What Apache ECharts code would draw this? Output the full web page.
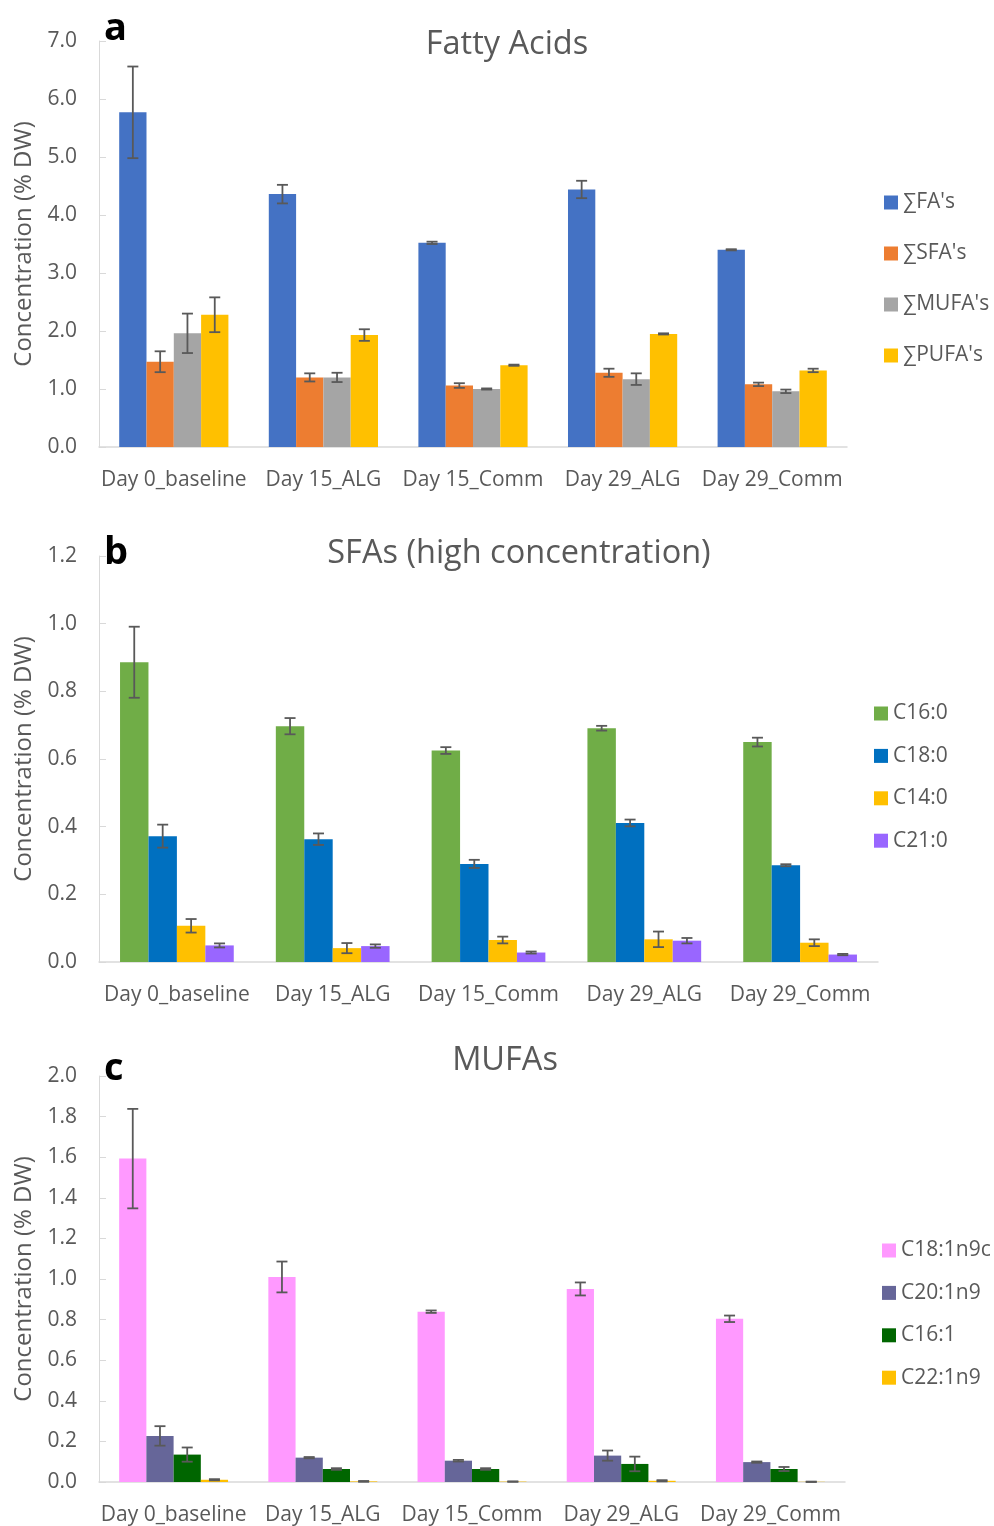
<!DOCTYPE html>
<html><head><meta charset="utf-8">
<script src="https://cdn.jsdelivr.net/npm/echarts@6/dist/echarts.min.js"></script>
<style>html,body{margin:0;padding:0;background:#fff}#chart{width:994px;height:1526px}</style>
</head><body><div id="chart"></div>
<script>
// ---------- DATA ----------
const categories = ['Day 0_baseline', 'Day 15_ALG', 'Day 15_Comm', 'Day 29_ALG', 'Day 29_Comm'];

// Panel a: Fatty Acids
const faNames = ["∑FA's", "∑SFA's", "∑MUFA's", "∑PUFA's"];
const faTotal    = [5.77, 4.36, 3.52, 4.44, 3.40];
const faTotalErr = [0.79, 0.16, 0.02, 0.15, 0.01];
const sfaTotal    = [1.47, 1.20, 1.06, 1.28, 1.08];
const sfaTotalErr = [0.18, 0.07, 0.04, 0.07, 0.03];
const mufaTotal    = [1.96, 1.20, 1.00, 1.17, 0.96];
const mufaTotalErr = [0.34, 0.08, 0.01, 0.10, 0.03];
const pufaTotal    = [2.28, 1.93, 1.41, 1.95, 1.32];
const pufaTotalErr = [0.30, 0.10, 0.01, 0.01, 0.03];

// Panel b: SFAs (high concentration)
const sfaNames = ['C16:0', 'C18:0', 'C14:0', 'C21:0'];
const c16_0    = [0.886, 0.697, 0.625, 0.691, 0.650];
const c16_0Err = [0.105, 0.024, 0.010, 0.007, 0.013];
const c18_0    = [0.372, 0.363, 0.290, 0.411, 0.286];
const c18_0Err = [0.034, 0.017, 0.012, 0.010, 0.003];
const c14_0    = [0.107, 0.041, 0.065, 0.067, 0.057];
const c14_0Err = [0.020, 0.015, 0.010, 0.023, 0.010];
const c21_0    = [0.049, 0.047, 0.028, 0.063, 0.022];
const c21_0Err = [0.006, 0.005, 0.003, 0.008, 0.002];

// Panel c: MUFAs
const mufaNames = ['C18:1n9c', 'C20:1n9', 'C16:1', 'C22:1n9'];
const c18_1n9c    = [1.593, 1.010, 0.839, 0.951, 0.804];
const c18_1n9cErr = [0.245, 0.076, 0.006, 0.032, 0.016];
const c20_1n9     = [0.227, 0.120, 0.105, 0.130, 0.098];
const c20_1n9Err  = [0.048, 0.003, 0.004, 0.025, 0.003];
const c16_1       = [0.135, 0.064, 0.064, 0.089, 0.064];
const c16_1Err    = [0.035, 0.004, 0.004, 0.036, 0.010];
const c22_1n9     = [0.011, 0.003, 0.002, 0.006, 0.001];
const c22_1n9Err  = [0.003, 0.002, 0.001, 0.003, 0.001];

// Axis ticks
const axisA = {min: 0, max: 7, interval: 1};
const axisB = {min: 0, max: 1.2, interval: 0.2};
const axisC = {min: 0, max: 2.0, interval: 0.2};

// ---------- STYLE ----------
const FONT = "'Open Sans', 'DejaVu Sans', sans-serif";
const TXT = '#595959';
const AXIS = '#d9d9d9';
const CAT_GAP = 0.27;

const panels = [
  {title: 'Fatty Acids', letter: 'a', names: faNames,
   values: [faTotal, sfaTotal, mufaTotal, pufaTotal],
   errs: [faTotalErr, sfaTotalErr, mufaTotalErr, pufaTotalErr],
   colors: ['#4472C4', '#ED7D31', '#A5A5A5', '#FFC000'], axis: axisA,
   grid: {left: 99, right: 147, top: 41, height: 406},
   legend: {left: 879, top: 187, itemGap: 30},
   titlePos: {x: 502, y: 23}, letterPos: {x: 99, y: 5}},
  {title: 'SFAs (high concentration)', letter: 'b', names: sfaNames,
   values: [c16_0, c18_0, c14_0, c21_0],
   errs: [c16_0Err, c18_0Err, c14_0Err, c21_0Err],
   colors: ['#70AD47', '#0070C0', '#FFC000', '#9966FF'], axis: axisB,
   grid: {left: 99, right: 116, top: 556, height: 406},
   legend: {left: 869, top: 698, itemGap: 21.4},
   titlePos: {x: 514, y: 532}, letterPos: {x: 99, y: 529}},
  {title: 'MUFAs', letter: 'c', names: mufaNames,
   values: [c18_1n9c, c20_1n9, c16_1, c22_1n9],
   errs: [c18_1n9cErr, c20_1n9Err, c16_1Err, c22_1n9Err],
   colors: ['#FF99FF', '#666699', '#006600', '#FFC000'], axis: axisC,
   grid: {left: 99, right: 149, top: 1076, height: 406},
   legend: {left: 877, top: 1235, itemGap: 21.4},
   titlePos: {x: 500, y: 1039}, letterPos: {x: 99, y: 1045}}
];

const option = {
  backgroundColor: '#fff',
  animation: false,
  textStyle: {fontFamily: FONT},
  title: [], grid: [], xAxis: [], yAxis: [], legend: [], series: []
};

panels.forEach((p, gi) => {
  option.title.push({text: p.title, left: p.titlePos.x, top: p.titlePos.y, textAlign: 'center',
    textStyle: {fontFamily: FONT, fontSize: 32.5, fontWeight: 'normal', color: TXT}});
  option.title.push({text: p.letter, left: p.letterPos.x, top: p.letterPos.y,
    textStyle: {fontFamily: FONT, fontSize: 38, fontWeight: 'bold', color: '#000'}});
  option.grid.push(Object.assign({containLabel: false, outerBoundsMode: 'none'}, p.grid));
  option.xAxis.push({type: 'category', gridIndex: gi, data: categories,
    axisLine: {lineStyle: {color: AXIS, width: 1.5}},
    axisTick: {show: false},
    axisLabel: {color: TXT, fontSize: 21, margin: 23, fontFamily: FONT, interval: 0}});
  option.yAxis.push({type: 'value', gridIndex: gi, min: p.axis.min, max: p.axis.max, interval: p.axis.interval,
    name: 'Concentration (% DW)', nameLocation: 'middle', nameGap: 62,
    nameTextStyle: {color: TXT, fontSize: 24, fontFamily: FONT},
    axisLine: {show: true, lineStyle: {color: AXIS, width: 1}},
    axisTick: {show: true, inside: true, length: 7, lineStyle: {color: AXIS}},
    splitLine: {show: false},
    axisLabel: {color: TXT, fontSize: 21, margin: 22, fontFamily: FONT,
      formatter: v => v.toFixed(1)}});
  option.legend.push({orient: 'vertical', left: p.legend.left, top: p.legend.top,
    itemGap: p.legend.itemGap, itemWidth: 14, itemHeight: 14, icon: 'rect', selectedMode: false,
    data: p.names,
    textStyle: {color: TXT, fontSize: 21, fontFamily: FONT, lineHeight: 20}});
  p.names.forEach((n, k) => {
    option.series.push({type: 'bar', name: n, xAxisIndex: gi, yAxisIndex: gi,
      data: p.values[k], barGap: '0%', barCategoryGap: (CAT_GAP * 100) + '%',
      itemStyle: {color: p.colors[k]}});
  });
  const errData = [];
  p.names.forEach((n, k) => {
    categories.forEach((c, ci) => errData.push([ci, p.values[k][ci], p.errs[k][ci], k]));
  });
  const nSeries = p.names.length;
  option.series.push({type: 'custom', xAxisIndex: gi, yAxisIndex: gi, z: 10, silent: true,
    data: errData,
    renderItem: (params, api) => {
      const ci = api.value(0), v = api.value(1), e = api.value(2), k = api.value(3);
      const band = api.size([1, 0])[0];
      const groupW = band * (1 - CAT_GAP);
      const bw = groupW / nSeries;
      const cx = api.coord([ci, 0])[0] - groupW / 2 + bw * (k + 0.5);
      const yt = api.coord([ci, v + e])[1];
      const yb = api.coord([ci, Math.max(v - e, 0)])[1];
      const hw = 5.5;
      const st = {stroke: '#595959', lineWidth: 1.8};
      return {type: 'group', children: [
        {type: 'line', shape: {x1: cx, y1: yt, x2: cx, y2: yb}, style: st},
        {type: 'line', shape: {x1: cx - hw, y1: yt, x2: cx + hw, y2: yt}, style: st},
        {type: 'line', shape: {x1: cx - hw, y1: yb, x2: cx + hw, y2: yb}, style: st}
      ]};
    }});
});

const chart = echarts.init(document.getElementById('chart'), null, {renderer: 'canvas'});
chart.setOption(option);
</script>
</body></html>
